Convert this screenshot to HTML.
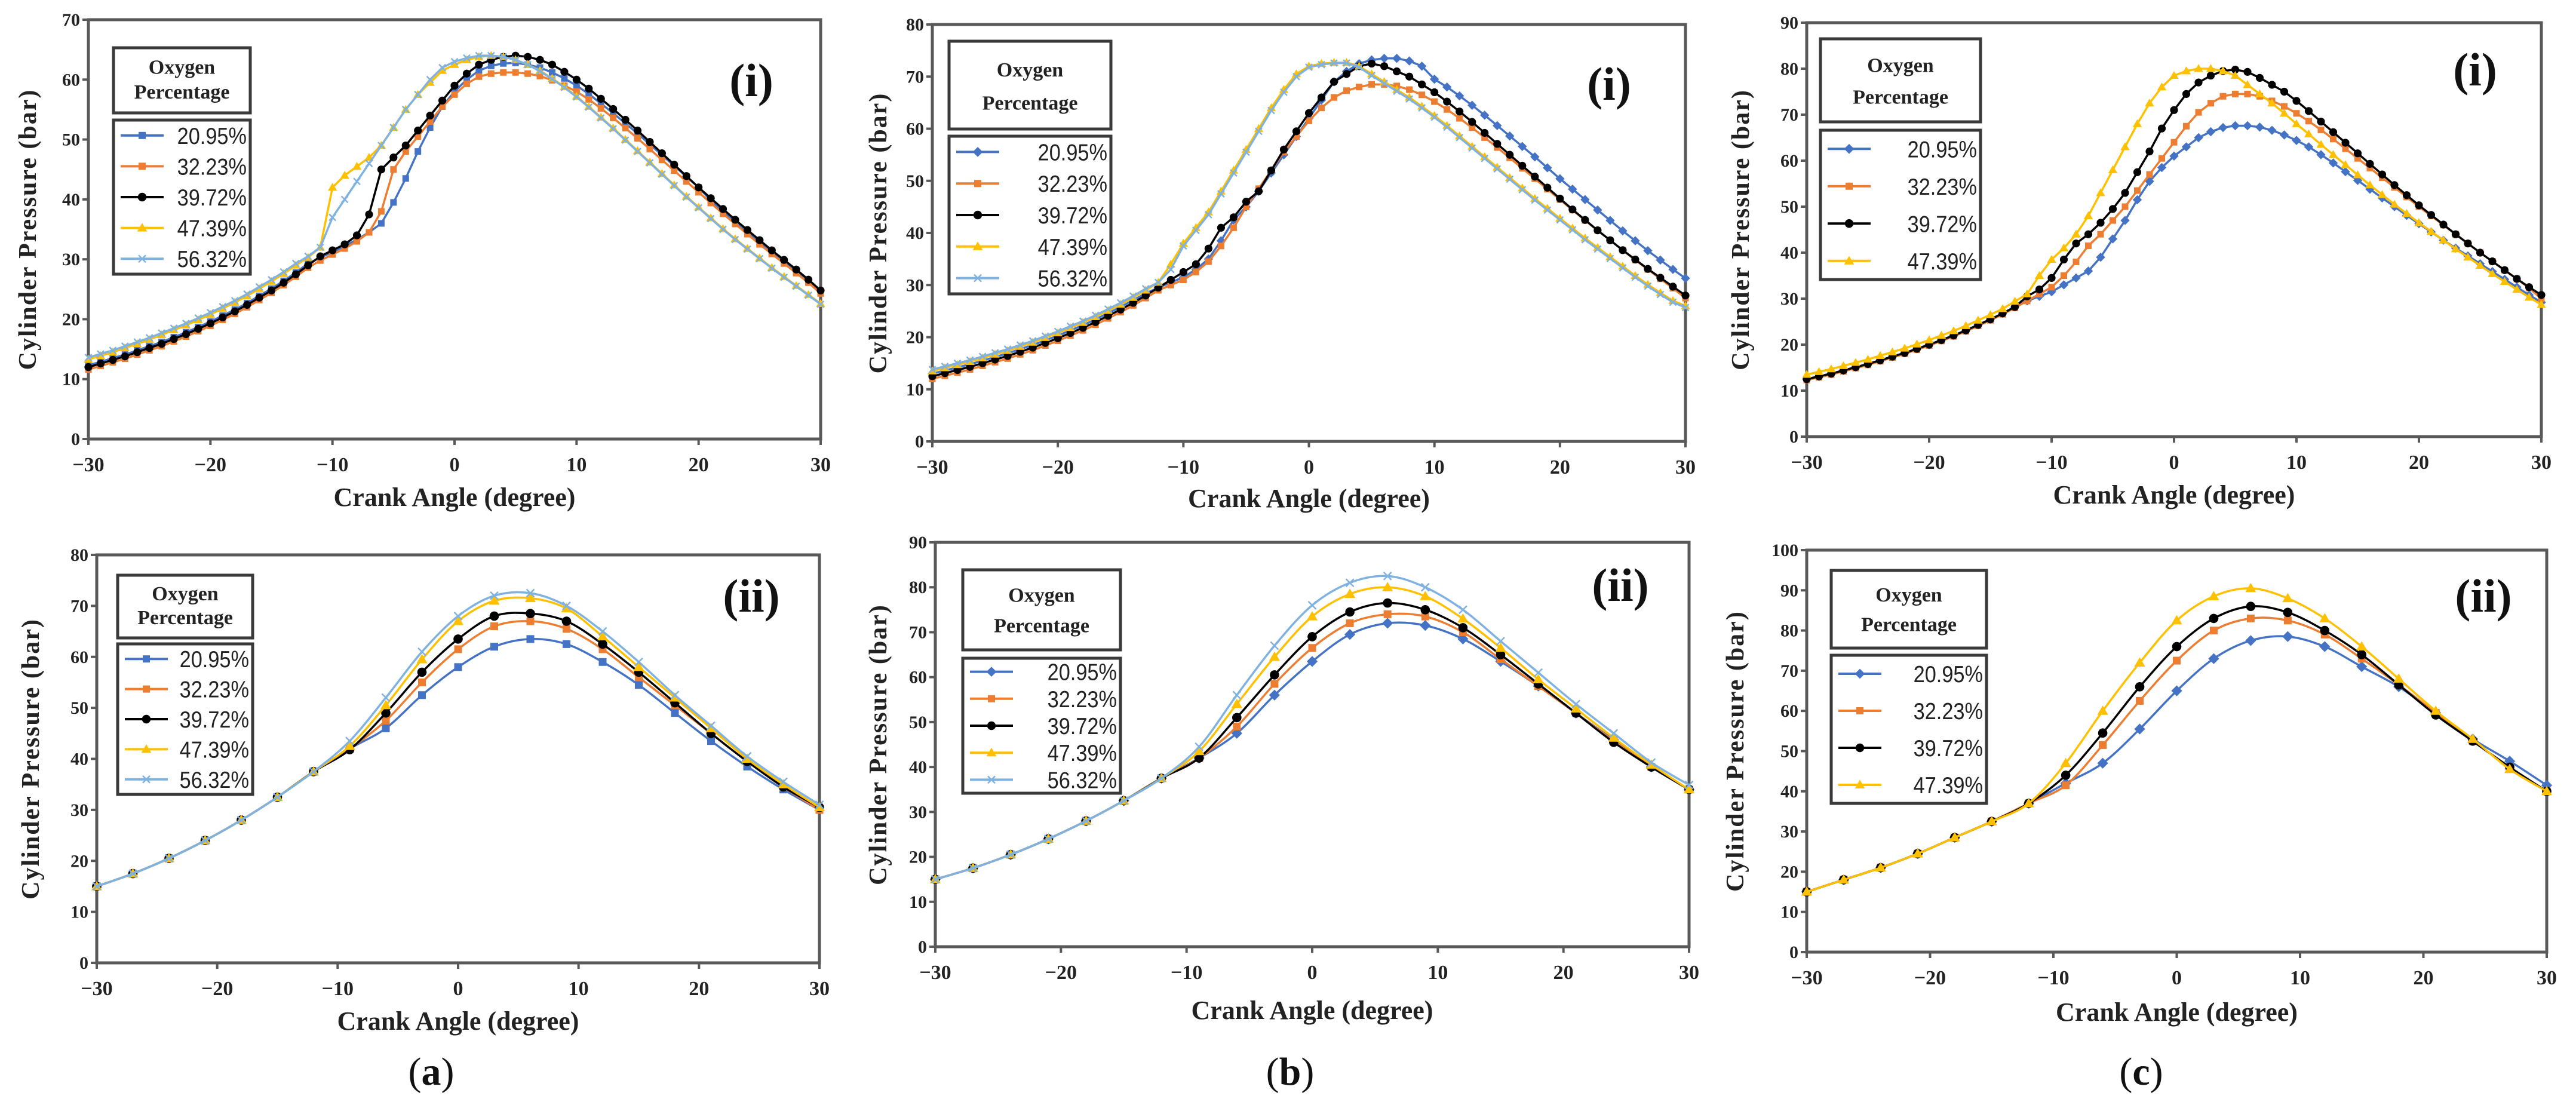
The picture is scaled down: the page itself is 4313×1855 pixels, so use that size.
<!DOCTYPE html>
<html><head><meta charset="utf-8"><style>
html,body{margin:0;padding:0;background:#fff;}
svg{display:block;}
</style></head><body>
<svg id="fig" xmlns="http://www.w3.org/2000/svg" width="4313" height="1855" viewBox="0 0 4313 1855">
<rect width="4313" height="1855" fill="#fff"/>
</svg>
<script>
// ---------- DATA ----------
const seriesLabels5 = ["20.95%","32.23%","39.72%","47.39%","56.32%"];
const seriesLabels4 = ["20.95%","32.23%","39.72%","47.39%"];
const yTicksA1 = [0,10,20,30,40,50,60,70];
const yTicksB1 = [0,10,20,30,40,50,60,70,80];
const yTicksC1 = [0,10,20,30,40,50,60,70,80,90];
const yTicksA2 = [0,10,20,30,40,50,60,70,80];
const yTicksB2 = [0,10,20,30,40,50,60,70,80,90];
const yTicksC2 = [0,10,20,30,40,50,60,70,80,90,100];
const xTicks = [-30,-20,-10,0,10,20,30];
const xTop = Array.from({length:61},(d,i)=>i-30);
const xBottom = [-30,-27,-24,-21,-18,-15,-12,-9,-6,-3,0,3,6,9,12,15,18,21,24,27,30];

// (a)(i)
const a1_2095 = [12.3,12.9,13.5,14.1,14.8,15.5,16.2,17.0,17.8,18.7,19.6,20.6,21.6,22.7,23.9,25.1,26.4,27.8,29.3,
 30.3,31.2,32.2,33.3,34.5,36.0,39.5,43.5,48.0,52.0,55.5,
 58.0,60.0,61.5,62.3,62.7,62.8,62.5,62.0,61.2,60.2,59.0,
 57.6,56.0,54.4,52.7,51.0,49.2,47.4,45.6,43.8,42.0,
 39.8,38.0,36.2,34.5,32.8,31.1,29.5,27.9,26.3,24.6];
const a1_3223 = [11.6,12.2,12.8,13.4,14.1,14.8,15.5,16.3,17.1,18.0,18.9,19.9,20.9,22.0,23.2,24.4,25.7,27.1,28.6,
 29.8,30.8,31.8,33.0,34.5,38.0,45.0,48.0,50.5,53.0,55.5,
 57.5,59.3,60.5,61.0,61.2,61.2,61.0,60.6,59.9,59.0,58.0,
 56.7,55.2,53.6,51.9,50.2,48.4,46.6,44.8,43.0,41.2,
 39.4,37.6,35.9,34.2,32.5,30.9,29.3,27.7,26.1,24.3];
const a1_3972 = [12.0,12.6,13.2,13.8,14.5,15.2,15.9,16.7,17.5,18.4,19.3,20.3,21.3,22.4,23.6,24.8,26.1,27.5,29.0,
 30.5,31.5,32.5,34.0,37.5,45.0,47.0,49.0,51.5,54.0,56.5,
 59.0,61.0,62.5,63.3,63.8,64.0,63.8,63.3,62.5,61.3,60.0,
 58.5,56.8,55.1,53.3,51.5,49.6,47.7,45.8,43.9,42.0,
 40.2,38.4,36.6,34.9,33.2,31.5,29.9,28.3,26.6,24.8];
const a1_4739 = [13.3,13.9,14.5,15.2,15.9,16.6,17.4,18.2,19.0,19.9,20.8,21.8,22.8,23.9,25.1,26.3,27.6,29.0,30.3,
 32.0,42.0,44.0,45.5,47.0,49.0,52.0,55.0,57.5,59.5,61.5,
 62.5,63.3,63.8,64.0,63.8,63.3,62.5,61.5,60.2,58.8,57.2,
 55.5,53.7,51.9,50.0,48.1,46.2,44.3,42.4,40.5,38.7,
 36.9,35.1,33.4,31.8,30.2,28.6,27.1,25.6,24.1,22.6];
const a1_5632 = [13.6,14.2,14.8,15.5,16.2,16.9,17.7,18.5,19.3,20.2,21.1,22.1,23.1,24.2,25.4,26.6,27.9,29.3,30.5,
 32.0,37.0,40.0,43.0,46.0,49.0,52.0,55.0,57.5,60.0,62.0,
 63.0,63.6,64.0,64.0,63.8,63.3,62.5,61.4,60.1,58.7,57.1,
 55.4,53.6,51.8,49.9,48.0,46.1,44.2,42.3,40.4,38.6,
 36.8,35.0,33.3,31.7,30.1,28.5,27.0,25.5,24.0,22.5];

// (b)(i)
const b1_2095 = [13.0,13.6,14.2,14.8,15.5,16.2,16.9,17.7,18.5,19.4,20.3,21.3,22.3,23.4,24.6,25.8,27.1,28.4,29.5,
 30.5,31.5,33.0,35.0,38.5,42.5,45.0,48.0,51.5,55.0,58.5,
 62.0,65.5,69.0,71.0,72.5,73.2,73.5,73.5,73.0,72.0,69.5,
 68.0,66.3,64.5,62.6,60.6,58.6,56.6,54.6,52.5,50.4,
 48.4,46.4,44.4,42.4,40.4,38.5,36.6,34.8,33.0,31.3];
const b1_3223 = [12.0,12.6,13.2,13.8,14.5,15.2,15.9,16.7,17.5,18.4,19.3,20.3,21.3,22.4,23.6,24.8,26.1,27.5,29.0,
 30.0,31.0,32.5,34.5,37.5,41.0,45.0,48.5,52.0,55.5,58.5,
 61.5,64.0,66.0,67.3,68.0,68.5,68.5,68.2,67.5,66.5,65.2,
 63.7,62.0,60.2,58.3,56.4,54.4,52.4,50.4,48.4,46.4,
 44.4,42.4,40.5,38.6,36.7,34.8,33.0,31.2,29.4,27.5];
const b1_3972 = [12.5,13.1,13.7,14.3,15.0,15.7,16.4,17.2,18.0,18.9,19.8,20.8,21.8,22.9,24.1,25.3,26.6,28.0,29.5,
 31.0,32.5,34.0,37.0,41.0,43.0,46.0,48.0,52.0,56.0,59.5,
 63.0,66.0,69.0,70.5,72.0,72.5,72.0,71.0,70.0,68.5,67.0,
 65.2,63.3,61.3,59.2,57.1,55.0,52.9,50.8,48.7,46.6,
 44.5,42.5,40.5,38.6,36.7,34.9,33.1,31.4,29.7,28.0];
const b1_4739 = [13.5,14.1,14.7,15.3,16.0,16.7,17.4,18.2,19.0,19.9,20.8,21.8,22.8,23.9,25.1,26.3,27.6,29.0,30.5,
 34.0,38.0,41.0,44.0,48.0,52.0,56.0,60.0,64.0,67.5,70.5,
 72.0,72.5,72.7,72.7,72.0,70.5,69.0,67.5,66.0,64.3,62.5,
 60.6,58.6,56.6,54.6,52.6,50.6,48.6,46.6,44.7,42.8,
 40.9,39.0,37.2,35.4,33.6,31.8,30.1,28.5,27.0,26.0];
const b1_5632 = [13.8,14.4,15.0,15.6,16.3,17.0,17.7,18.5,19.3,20.2,21.1,22.1,23.1,24.2,25.4,26.6,27.9,29.3,30.5,
 33.0,37.5,40.5,43.5,47.5,51.5,55.5,59.5,63.5,67.0,70.0,
 71.8,72.3,72.6,72.6,71.8,70.2,68.7,67.2,65.7,64.0,62.2,
 60.3,58.3,56.3,54.3,52.3,50.3,48.3,46.3,44.4,42.5,
 40.6,38.7,36.9,35.1,33.3,31.5,29.8,28.2,26.7,25.7];

// (c)(i)
const c1_2095 = [12.5,13.1,13.7,14.4,15.1,15.8,16.6,17.4,18.2,19.1,20.0,21.0,22.0,23.1,24.3,25.5,26.8,28.2,29.5,
 30.5,31.5,33.0,34.5,36.0,39.0,43.0,47.0,51.5,55.5,58.5,
 61.0,63.0,65.0,66.3,67.2,67.6,67.6,67.3,66.6,65.6,64.4,
 63.0,61.3,59.5,57.6,55.7,53.8,51.9,50.0,48.1,46.3,
 44.5,42.7,41.0,39.3,37.6,35.9,34.2,32.5,30.8,29.2];
const c1_3223 = [12.3,12.9,13.5,14.2,14.9,15.6,16.4,17.2,18.0,18.9,19.8,20.8,21.8,22.9,24.1,25.3,26.6,28.0,29.5,
 31.0,32.5,35.0,38.0,41.5,44.0,47.0,50.0,53.5,57.0,60.5,
 64.0,67.5,70.5,72.5,74.0,74.5,74.5,74.0,73.0,71.8,70.3,
 68.6,66.7,64.7,62.6,60.5,58.4,56.3,54.2,52.1,50.0,
 48.0,46.0,44.0,42.0,40.0,38.1,36.2,34.3,32.3,30.0];
const c1_3972 = [12.5,13.1,13.7,14.4,15.1,15.8,16.6,17.4,18.2,19.1,20.0,21.0,22.0,23.1,24.3,25.5,26.8,28.2,30.5,
 32.0,34.5,38.5,42.0,44.0,46.5,49.5,53.0,57.5,62.0,67.0,
 71.0,74.5,77.0,78.5,79.5,79.8,79.3,78.0,76.5,75.0,73.0,
 70.8,68.5,66.2,63.9,61.6,59.3,57.0,54.7,52.5,50.3,
 48.2,46.1,44.0,42.0,40.0,38.1,36.2,34.3,32.5,30.8];
const c1_4739 = [13.5,14.1,14.7,15.4,16.1,16.8,17.6,18.4,19.2,20.1,21.0,22.0,23.0,24.1,25.3,26.5,27.8,29.4,31.0,
 35.0,38.5,41.0,44.0,48.0,53.0,58.0,63.0,68.0,72.5,76.0,
 78.5,79.5,80.0,80.0,79.5,78.5,76.5,74.5,72.5,70.3,68.0,
 65.8,63.5,61.3,59.1,56.9,54.7,52.6,50.5,48.5,46.5,
 44.6,42.7,40.8,39.0,37.2,35.4,33.7,32.0,30.3,28.7];

// (a)(ii)
const a2_2095 = [15,17.5,20.5,24,28,32.5,37.5,42,46,52.5,58,62,63.5,62.5,59,54.5,49,43.5,38.5,34,30];
const a2_3223 = [15,17.5,20.5,24,28,32.5,37.5,42,47.5,55,61.5,66,67,65.5,61.5,56,50.5,45,39.5,34.5,30];
const a2_3972 = [15,17.5,20.5,24,28,32.5,37.5,41.8,49,57,63.5,68,68.5,67,62.5,57,51,45,39.5,34.5,30.5];
const a2_4739 = [15,17.5,20.5,24,28,32.5,37.5,42.5,50.5,59.5,67,71,71.5,69.5,64,58,52,46,40,35,30.5];
const a2_5632 = [15,17.5,20.5,24,28,32.5,37.5,43.5,52,61,68,72,72.5,70,65,59,52.5,46.5,40.5,35.5,31];

// (b)(ii)
const b2_2095 = [15,17.5,20.5,24,28,32.5,37.5,42,47.5,56,63.5,69.5,72,71.5,68.5,63.5,58,52,46,40,35];
const b2_3223 = [15,17.5,20.5,24,28,32.5,37.5,42,49,58.5,66.5,72,74,73.5,70,64,58,52,45.8,40,35];
const b2_3972 = [15,17.5,20.5,24,28,32.5,37.5,42,51,60.5,69,74.5,76.5,75,71,65,58.5,52,45.5,40,35];
const b2_4739 = [15,17.5,20.5,24,28,32.5,37.5,43.5,54,64.5,73.5,78.5,80,78,73,66.5,59.5,53,46.5,40.5,35];
const b2_5632 = [15,17.5,20.5,24,28,32.5,37.5,44.5,56,67,76,81,82.5,80,75,68,61,54,47.5,41,36];

// (c)(ii)
const c2_2095 = [15,18,21,24.5,28.5,32.5,37,42,47,55.5,65,73,77.5,78.5,76,71,66,59.5,53,47.5,41.5];
const c2_3223 = [15,18,21,24.5,28.5,32.5,37,41.5,51.5,62.5,72.5,80,83,82.5,79,73,66.5,59.5,52.5,46,40];
const c2_3972 = [15,18,21,24.5,28.5,32.5,37,44,54.5,66,76,83,86,84.5,80,74,66.5,59,52.5,46,40];
const c2_4739 = [15,18,21,24.5,28.5,32.5,37,47,60,72,82.5,88.5,90.5,88,83,76,68,60,53,45.5,40];

// ---------- DRAWING ----------
const NS = "http://www.w3.org/2000/svg";
const svg = document.getElementById("fig");
function mk(tag, attrs, parent){
  const e = document.createElementNS(NS, tag);
  for (const k in attrs) e.setAttribute(k, attrs[k]);
  (parent||svg).appendChild(e);
  return e;
}
const SERIF = '"Liberation Serif", serif';
const SANS = '"Liberation Sans", sans-serif';

function drawMarker(g, type, x, y, color, s){
  let m;
  if (type === "square") m = mk("rect",{x:x-s/2,y:y-s/2,width:s,height:s,fill:color},g);
  else if (type === "diamond") m = mk("polygon",{points:`${x},${y-s*0.7} ${x+s*0.7},${y} ${x},${y+s*0.7} ${x-s*0.7},${y}`,fill:color},g);
  else if (type === "circle") m = mk("circle",{cx:x,cy:y,r:s*0.6,fill:color},g);
  else if (type === "triangle") m = mk("polygon",{points:`${x},${y-s*0.7} ${x+s*0.7},${y+s*0.5} ${x-s*0.7},${y+s*0.5}`,fill:color},g);
  else { m = mk("path",{d:`M${x-s/2},${y-s/2}L${x+s/2},${y+s/2}M${x+s/2},${y-s/2}L${x-s/2},${y+s/2}`,stroke:color,"stroke-width":2.5,fill:"none"},g); }
  return m;
}
function smoothPath(pts){
  let d = `M${pts[0][0]},${pts[0][1]}`;
  for (let i=0;i<pts.length-1;i++){
    const p0=pts[Math.max(0,i-1)], p1=pts[i], p2=pts[i+1], p3=pts[Math.min(pts.length-1,i+2)];
    const c1x=p1[0]+(p2[0]-p0[0])/6, c1y=p1[1]+(p2[1]-p0[1])/6;
    const c2x=p2[0]-(p3[0]-p1[0])/6, c2y=p2[1]-(p3[1]-p1[1])/6;
    d += `C${c1x},${c1y} ${c2x},${c2y} ${p2[0]},${p2[1]}`;
  }
  return d;
}

function panel(cfg){
  const g = mk("g",{});
  
  
  const {x0,x1,y0,y1} = cfg;
  const ymax = cfg.yTicks[cfg.yTicks.length-1];
  const sx = v => x0 + (v+30)/60*(x1-x0);
  const sy = v => y1 - v/ymax*(y1-y0);

  const frame = mk("rect",{x:x0,y:y0,width:x1-x0,height:y1-y0,fill:"none",stroke:"#595959","stroke-width":5},g);
  
  

  cfg.yTicks.forEach(v=>{
    const t = mk("line",{x1:x0-10,x2:x0,y1:sy(v),y2:sy(v),stroke:"#595959","stroke-width":4},g);
    
    
    const lab = mk("text",{x:x0-14,y:sy(v)+10,"text-anchor":"end","font-family":SERIF,"font-weight":"bold","font-size":30,fill:"#222"},g);
    lab.textContent = v;
    
    
  });
  xTicks.forEach(v=>{
    const t = mk("line",{x1:sx(v),x2:sx(v),y1:y1,y2:y1+10,stroke:"#595959","stroke-width":4},g);
    
    
    const lab = mk("text",{x:sx(v),y:y1+54,"text-anchor":"middle","font-family":SERIF,"font-weight":"bold","font-size":34,fill:"#222"},g);
    lab.textContent = v===0? "0" : (v<0? "\u2212"+Math.abs(v) : String(v));
    
    
  });
  const xt = mk("text",{x:(x0+x1)/2,y:y1+cfg.xtOff,"text-anchor":"middle","font-family":SERIF,"font-weight":"bold","font-size":44,fill:"#222"},g);
  xt.textContent = "Crank Angle (degree)";
  
  
  const ym = (y0+y1)/2;
  const yt = mk("text",{x:cfg.ytX,y:ym,"text-anchor":"middle","font-family":SERIF,"font-weight":"bold","font-size":42,fill:"#222","letter-spacing":2,transform:`rotate(-90 ${cfg.ytX} ${ym}) translate(0 14)`},g);
  yt.textContent = "Cylinder  Pressure (bar)";
  
  

  cfg.series.forEach(s=>{
    const sg = mk("g",{},g);
    
    
    const pts = cfg.xs.map((x,i)=>[sx(x), sy(s.vals[i])]);
    const d = cfg.smooth ? smoothPath(pts) : "M" + pts.map(p=>p.join(",")).join("L");
    const line = mk("path",{d:d,fill:"none",stroke:s.color,"stroke-width":3.5,"stroke-linejoin":"round"},sg);
    
    
    pts.forEach(p=>{
      const m = drawMarker(sg, s.marker, p[0], p[1], s.color, cfg.smooth?13:11);
      
      
    });
  });

  const L = cfg.legend;
  const lg = mk("g",{},g);
  
  
  const tb = mk("rect",{x:L.x0,y:L.ty0,width:L.x1-L.x0,height:L.ty1-L.ty0,fill:"#fff",stroke:"#3a3a3a","stroke-width":5},lg);
  
  
  const lcx = (L.x0+L.x1)/2, th = L.ty1-L.ty0;
  const t1 = mk("text",{x:lcx,y:L.ty0+th*0.40,"text-anchor":"middle","font-family":SERIF,"font-weight":"bold","font-size":34,fill:"#222"},lg);
  t1.textContent = "Oxygen";
  
  
  const t2 = mk("text",{x:lcx,y:L.ty0+th*0.78,"text-anchor":"middle","font-family":SERIF,"font-weight":"bold","font-size":34,fill:"#222"},lg);
  t2.textContent = "Percentage";
  
  
  const eb = mk("rect",{x:L.x0,y:L.ey0,width:L.x1-L.x0,height:L.ey1-L.ey0,fill:"#fff",stroke:"#3a3a3a","stroke-width":5},lg);
  
  
  const n = cfg.series.length, rh = (L.ey1-L.ey0)/n;
  cfg.series.forEach((s,i)=>{
    const cy = L.ey0 + (i+0.5)*rh;
    const eg = mk("g",{},lg);
    
    
    mk("line",{x1:L.x0+12,x2:L.x0+84,y1:cy,y2:cy,stroke:s.color,"stroke-width":4},eg);
    drawMarker(eg, s.marker, L.x0+48, cy, s.color, 12);
    const tx = mk("text",{x:0,y:0,"text-anchor":"end","font-family":SANS,"font-size":39,fill:"#222",
      transform:`translate(${L.x1-6} ${cy+14}) scale(0.88 1)`},eg);
    tx.textContent = s.label;
  });

  const tag = mk("text",{x:cfg.tag[0],y:cfg.tag[1]+26,"text-anchor":"middle","font-family":SERIF,"font-weight":"bold","font-size":78,fill:"#111"},g);
  tag.textContent = cfg.tag[2];
  
  
}

const C = {blue:"#4472C4", orange:"#ED7D31", black:"#000000", yellow:"#FFC000", cyan:"#7FB2E0"};
function S5(v, blueMarker){ return [
  {vals:v[0],color:C.blue,marker:blueMarker,label:seriesLabels5[0]},
  {vals:v[1],color:C.orange,marker:"square",label:seriesLabels5[1]},
  {vals:v[2],color:C.black,marker:"circle",label:seriesLabels5[2]},
  {vals:v[3],color:C.yellow,marker:"triangle",label:seriesLabels5[3]},
  {vals:v[4],color:C.cyan,marker:"cross",label:seriesLabels5[4]}]; }
function S4(v){ return [
  {vals:v[0],color:C.blue,marker:"diamond",label:seriesLabels4[0]},
  {vals:v[1],color:C.orange,marker:"square",label:seriesLabels4[1]},
  {vals:v[2],color:C.black,marker:"circle",label:seriesLabels4[2]},
  {vals:v[3],color:C.yellow,marker:"triangle",label:seriesLabels4[3]}]; }

panel({name:"panel-a-i",x0:148,x1:1374,y0:33,y1:735,yTicks:yTicksA1,xs:xTop,smooth:false,xtOff:112,ytX:46,
  series:S5([a1_2095,a1_3223,a1_3972,a1_4739,a1_5632],"square"),
  legend:{x0:190,x1:419,ty0:80,ty1:189,ey0:201,ey1:459},tag:[1258,135,"(i)"]});
panel({name:"panel-b-i",x0:1561,x1:2822,y0:41,y1:739,yTicks:yTicksB1,xs:xTop,smooth:false,xtOff:110,ytX:1470,
  series:S5([b1_2095,b1_3223,b1_3972,b1_4739,b1_5632],"diamond"),
  legend:{x0:1589,x1:1860,ty0:69,ty1:216,ey0:228,ey1:492},tag:[2694,141,"(i)"]});
panel({name:"panel-c-i",x0:3025,x1:4255,y0:38,y1:731,yTicks:yTicksC1,xs:xTop,smooth:false,xtOff:112,ytX:2914,
  series:S4([c1_2095,c1_3223,c1_3972,c1_4739]),
  legend:{x0:3048,x1:3316,ty0:65,ty1:204,ey0:218,ey1:468},tag:[4144,117,"(i)"]});
panel({name:"panel-a-ii",x0:162,x1:1372,y0:929,y1:1612,yTicks:yTicksA2,xs:xBottom,smooth:true,xtOff:112,ytX:51,
  series:S5([a2_2095,a2_3223,a2_3972,a2_4739,a2_5632],"square"),
  legend:{x0:197,x1:423,ty0:963,ty1:1068,ey0:1078,ey1:1330},tag:[1258,998,"(ii)"]});
panel({name:"panel-b-ii",x0:1566,x1:2828,y0:908,y1:1585,yTicks:yTicksB2,xs:xBottom,smooth:true,xtOff:121,ytX:1470,
  series:S5([b2_2095,b2_3223,b2_3972,b2_4739,b2_5632],"diamond"),
  legend:{x0:1612,x1:1876,ty0:954,ty1:1088,ey0:1102,ey1:1328},tag:[2713,980,"(ii)"]});
panel({name:"panel-c-ii",x0:3025,x1:4264,y0:921,y1:1594,yTicks:yTicksC2,xs:xBottom,smooth:true,xtOff:115,ytX:2905,
  series:S4([c2_2095,c2_3223,c2_3972,c2_4739]),
  legend:{x0:3066,x1:3326,ty0:955,ty1:1085,ey0:1097,ey1:1345},tag:[4158,998,"(ii)"]});

[["(a)",722,"a"],["(b)",2160,"b"],["(c)",3585,"c"]].forEach(c=>{
  const t = mk("text",{x:c[1],y:1816,"text-anchor":"middle","font-family":SERIF,"font-size":66,fill:"#111"});
  
  
  const p1 = mk("tspan",{},t); p1.textContent = "(";
  const p2 = mk("tspan",{"font-weight":"bold"},t); p2.textContent = c[2];
  const p3 = mk("tspan",{},t); p3.textContent = ")";
});
</script>
</body></html>
